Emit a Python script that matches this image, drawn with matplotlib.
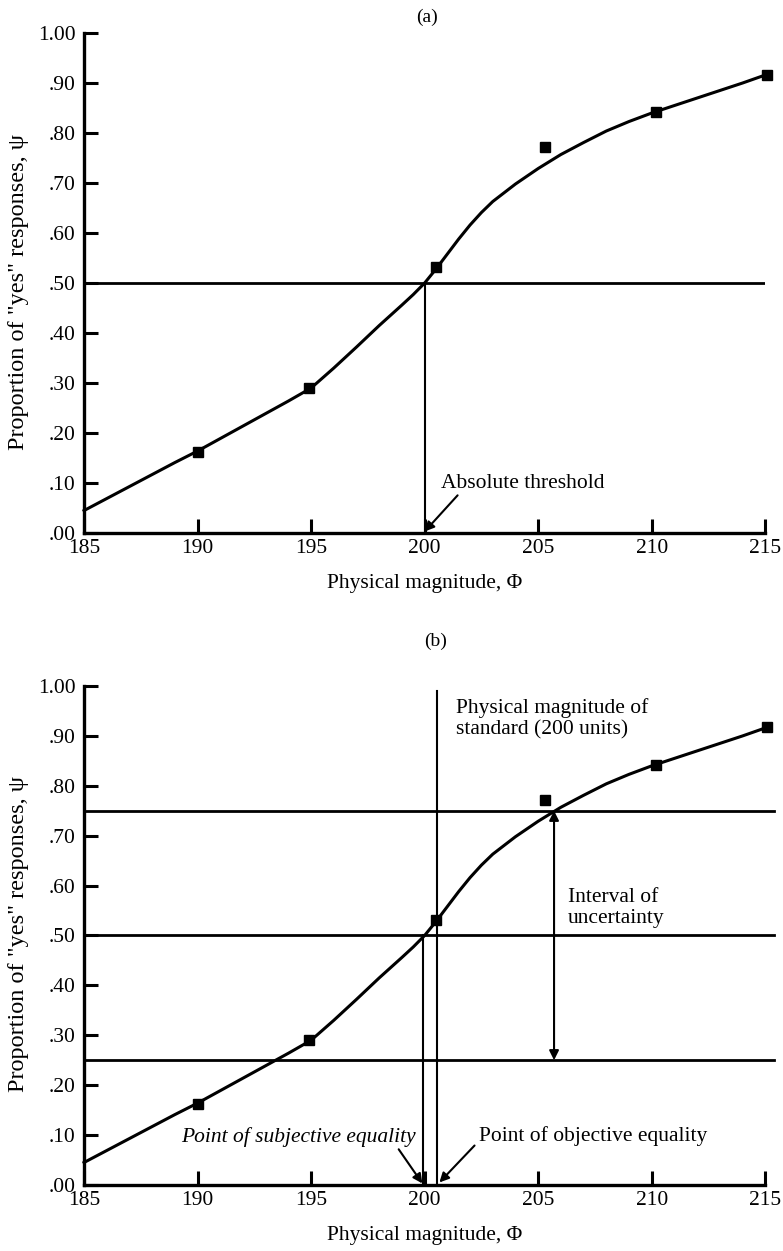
import matplotlib
matplotlib.use("Agg")
import matplotlib.pyplot as plt

plt.rcParams['font.family'] = ['Liberation Serif', 'DejaVu Serif']

# observed data points (same in both panels)
pts_x = [190.0, 194.9, 200.5, 205.3, 210.2, 215.1]
pts_y = [0.162, 0.290, 0.532, 0.772, 0.842, 0.917]

# fitted psychometric curve
curve_x = [185, 186, 187, 188, 189, 190, 191, 192, 193, 194, 195, 196, 197, 198,
           199, 199.5, 200, 200.5, 201, 201.5, 202, 202.5, 203, 204, 205, 206,
           207, 208, 209, 210, 211, 212, 213, 214, 215]
curve_y = [0.045, 0.069, 0.093, 0.117, 0.141, 0.164, 0.189, 0.214, 0.239, 0.264,
           0.290, 0.330, 0.372, 0.415, 0.456, 0.477, 0.500, 0.528, 0.558, 0.588,
           0.616, 0.641, 0.663, 0.698, 0.729, 0.757, 0.781, 0.804, 0.823, 0.840,
           0.855, 0.870, 0.885, 0.900, 0.916]

xticks = [185, 190, 195, 200, 205, 210, 215]
yticks = [0.0, 0.1, 0.2, 0.3, 0.4, 0.5, 0.6, 0.7, 0.8, 0.9, 1.0]
ytick_labels = ['.00', '.10', '.20', '.30', '.40', '.50', '.60', '.70', '.80', '.90', '1.00']

threshold = 200.0
standard = 200.55
pse = 199.95
interval_x = 205.7
uncert_levels = [0.25, 0.50, 0.75]

FS = 15.5
AFS = 15.5
fig = plt.figure(figsize=(7.83, 12.51), dpi=100)
ax_a = fig.add_axes([0.1073, 0.5739, 0.870, 0.3997])
ax_b = fig.add_axes([0.1073, 0.0528, 0.870, 0.3988])


def style_axes(ax, label_y):
    ax.set_xlim(185, 215)
    ax.set_ylim(0, 1.0)
    for s in ['top', 'right']:
        ax.spines[s].set_visible(False)
    for s in ['left', 'bottom']:
        ax.spines[s].set_linewidth(2.4)
    ax.set_xticks(xticks)
    ax.set_xticklabels([str(t) for t in xticks], fontsize=FS)
    ax.set_yticks(yticks)
    ax.set_yticklabels(ytick_labels, fontsize=FS)
    ax.tick_params(direction='in', length=10, width=2.2, pad=4)
    ax.tick_params(axis='y', pad=6)
    ax.set_xlabel('Physical magnitude, \u03a6', fontsize=FS, labelpad=12)
    ax.set_ylabel('Proportion of "yes" responses, \u03c8', fontsize=17.5)
    ax.yaxis.set_label_coords(-0.081, label_y)
    ax.plot(curve_x, curve_y, color='black', lw=2.2, clip_on=False)
    ax.plot(pts_x, pts_y, 's', color='black', ms=7.5, clip_on=False, zorder=5)


# panel (a)
style_axes(ax_a, 0.482)
ax_a.plot([185, 215], [0.5, 0.5], color='black', lw=2.0)
ax_a.plot([threshold, threshold], [0, 0.5], color='black', lw=1.5)
ax_a.annotate('Absolute threshold', xy=(threshold, 0.003), xytext=(200.7, 0.10),
              fontsize=AFS, ha='left', va='center',
              arrowprops=dict(arrowstyle='-|>', color='black', lw=1.5,
                              mutation_scale=14, shrinkA=0, shrinkB=0,
                              relpos=(0.12, 0.0)))
fig.text(0.545, 0.986, '(a)', fontsize=14, ha='center', va='center')

# panel (b)
style_axes(ax_b, 0.503)
for lev in uncert_levels:
    ax_b.plot([185, 215.4], [lev, lev], color='black', lw=2.0, clip_on=False)
ax_b.plot([standard, standard], [0, 0.99], color='black', lw=1.5)
ax_b.plot([pse, pse], [0, 0.5], color='black', lw=1.5)
ax_b.annotate('', xy=(interval_x, 0.75), xytext=(interval_x, 0.25),
              arrowprops=dict(arrowstyle='<|-|>', color='black', lw=1.5,
                              mutation_scale=14, shrinkA=0, shrinkB=0))
ax_b.text(201.4, 0.975, 'Physical magnitude of\nstandard (200 units)', fontsize=AFS,
          ha='left', va='top', linespacing=1.15)
ax_b.text(206.3, 0.595, 'Interval of\nuncertainty', fontsize=AFS,
          ha='left', va='top', linespacing=1.15)
ax_b.annotate('Point of subjective equality', xy=(pse - 0.05, 0.003), xytext=(199.6, 0.097),
              fontsize=AFS, ha='right', va='center', style='italic',
              arrowprops=dict(arrowstyle='-|>', color='black', lw=1.5,
                              mutation_scale=14, shrinkA=0, shrinkB=0,
                              relpos=(0.92, 0.0)))
ax_b.annotate('Point of objective equality', xy=(standard + 0.1, 0.005), xytext=(202.4, 0.099),
              fontsize=AFS, ha='left', va='center',
              arrowprops=dict(arrowstyle='-|>', color='black', lw=1.5,
                              mutation_scale=14, shrinkA=0, shrinkB=0,
                              relpos=(-0.02, 0.0)))
fig.text(0.556, 0.487, '(b)', fontsize=14, ha='center', va='center')

fig.savefig('out.png', dpi=100)
